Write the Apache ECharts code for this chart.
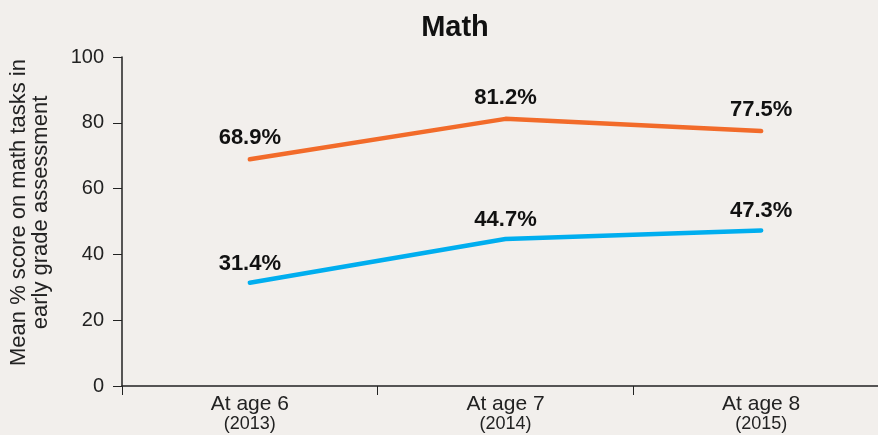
<!DOCTYPE html>
<html><head><meta charset="utf-8">
<script src="https://cdn.jsdelivr.net/npm/echarts@6/dist/echarts.min.js"></script>
<style>html,body{margin:0;padding:0;background:#f2efec}#c{width:878px;height:435px}</style>
</head><body><div id="c"></div>
<script>
var categories = ['At age 6', 'At age 7', 'At age 8'];
var years = ['(2013)', '(2014)', '(2015)'];
var orangeSeries = [68.9, 81.2, 77.5];
var blueSeries = [31.4, 44.7, 47.3];
var yTicks = [0, 20, 40, 60, 80, 100];

var chart = echarts.init(document.getElementById('c'));
var font = 'Liberation Sans';
function lineSeries(data, color, dist) {
  return {
    type: 'line', data: data, symbol: 'circle', symbolSize: 2, showSymbol: true,
    itemStyle: {color: 'rgba(0,0,0,0)', borderWidth: 0},
    lineStyle: {color: color, width: 4.5, cap: 'round'},
    label: {show: true, position: 'top', distance: dist, formatter: '{c}%',
      fontFamily: font, fontWeight: 'bold', fontSize: 22, color: '#111', opacity: 1}
  };
}
chart.setOption({
  backgroundColor: '#f2efec',
  animation: false,
  title: {
    text: 'Math', left: 450, top: 8, textAlign: 'center',
    textStyle: {fontFamily: font, fontWeight: 'bold', fontSize: 29, color: '#111'}
  },
  grid: {left: 122, top: 57, bottom: 49, width: 767, outerBoundsMode: 'none', containLabel: false},
  xAxis: {
    type: 'category', data: categories, boundaryGap: true,
    axisLine: {lineStyle: {color: '#222', width: 1.5}},
    axisTick: {show: true, length: 9, lineStyle: {color: '#222'}},
    axisLabel: {
      margin: 7, interval: 0,
      formatter: function (v, i) { return '{a|' + v + '}\n{b|' + years[i] + '}'; },
      rich: {
        a: {fontFamily: font, fontSize: 21, color: '#222', lineHeight: 22},
        b: {fontFamily: font, fontSize: 18, color: '#222', lineHeight: 18}
      }
    }
  },
  yAxis: {
    type: 'value', min: yTicks[0], max: yTicks[yTicks.length - 1], interval: 20,
    name: 'Mean % score on math tasks in\nearly grade assessment',
    nameLocation: 'middle', nameGap: 70, nameRotate: 90,
    nameTextStyle: {fontFamily: font, fontSize: 22, color: '#222', lineHeight: 22, padding: [0, 0, 0, 18]},
    axisLine: {show: true, lineStyle: {color: '#222', width: 1.5}},
    axisTick: {show: true, length: 9, lineStyle: {color: '#222'}},
    splitLine: {show: false},
    axisLabel: {fontFamily: font, fontSize: 20, color: '#222', margin: 18}
  },
  series: [
    lineSeries(orangeSeries, '#f26b2a', 9),
    lineSeries(blueSeries, '#00aeef', 7)
  ]
});
</script></body></html>
